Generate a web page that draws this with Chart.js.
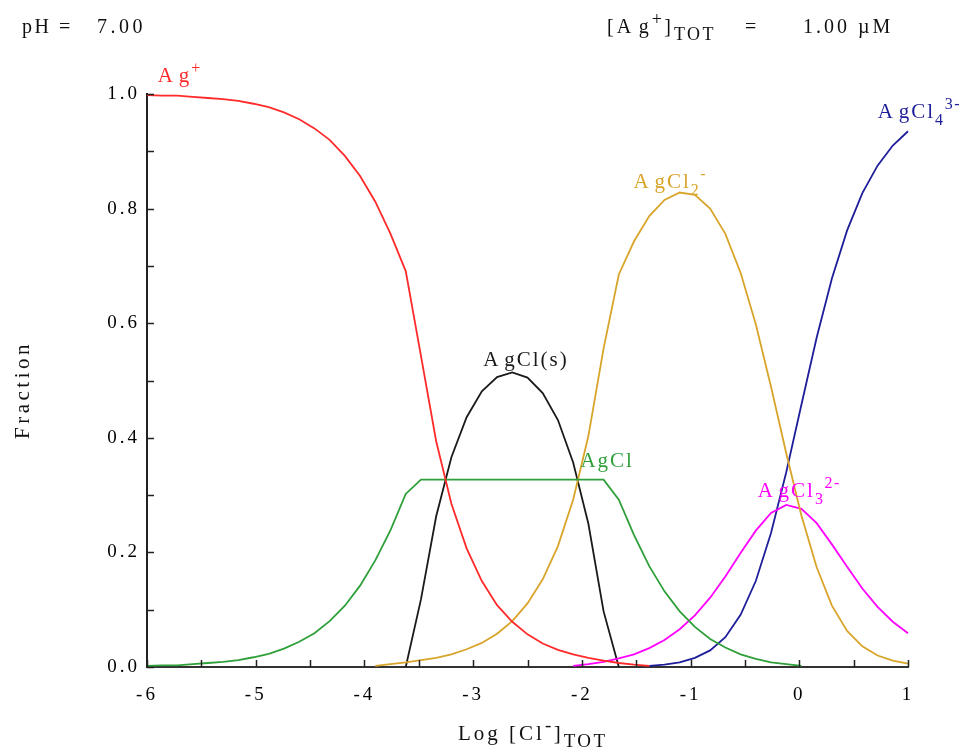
<!DOCTYPE html>
<html>
<head>
<meta charset="utf-8">
<script src="https://cdn.jsdelivr.net/npm/chart.js@4.4.1/dist/chart.umd.min.js"></script>
<style>
  html, body { margin: 0; padding: 0; background: #ffffff; }
  #c { display: block; }
</style>
</head>
<body>
<canvas id="c" width="976" height="751"></canvas>
<script>
// ---- data ----
const logCl = [-6, -5.86, -5.72, -5.58, -5.44, -5.3, -5.16, -5.02, -4.88, -4.74, -4.6, -4.46, -4.32, -4.18, -4.04, -3.9, -3.76, -3.62, -3.48, -3.34, -3.2, -3.06, -2.92, -2.78, -2.64, -2.5, -2.36, -2.22, -2.08, -1.94, -1.8, -1.66, -1.52, -1.38, -1.24, -1.1, -0.96, -0.82, -0.68, -0.54, -0.4, -0.26, -0.12, 0.02, 0.16, 0.3, 0.44, 0.58, 0.72, 0.86, 1.0];

const agPlus = [0.998, 0.997, 0.997, 0.995, 0.993, 0.991, 0.988, 0.983, 0.977, 0.968, 0.956, 0.940, 0.920, 0.892, 0.857, 0.812, 0.756, 0.691, 0.543, 0.394, 0.285, 0.207, 0.150, 0.108, 0.079, 0.057, 0.041, 0.030, 0.022, 0.016, 0.011, 0.007, 0.004, 0.002, null, null, null, null, null, null, null, null, null, null, null, null, null, null, null, null, null];

const agCl = [0.002, 0.003, 0.003, 0.005, 0.007, 0.009, 0.012, 0.017, 0.023, 0.032, 0.044, 0.059, 0.080, 0.107, 0.142, 0.186, 0.239, 0.302, 0.327, 0.327, 0.327, 0.327, 0.327, 0.327, 0.327, 0.327, 0.327, 0.327, 0.327, 0.327, 0.327, 0.292, 0.230, 0.176, 0.132, 0.097, 0.070, 0.049, 0.034, 0.022, 0.014, 0.008, 0.005, 0.002, null, null, null, null, null, null, null];

const agCl2 = [null, null, null, null, null, null, null, null, null, null, null, null, null, null, null, 0.002, 0.005, 0.008, 0.012, 0.016, 0.022, 0.031, 0.042, 0.058, 0.080, 0.111, 0.153, 0.211, 0.292, 0.403, 0.556, 0.685, 0.743, 0.787, 0.815, 0.828, 0.824, 0.800, 0.756, 0.688, 0.598, 0.489, 0.373, 0.264, 0.174, 0.107, 0.063, 0.036, 0.020, 0.011, 0.006];

const agCl3 = [null, null, null, null, null, null, null, null, null, null, null, null, null, null, null, null, null, null, null, null, null, null, null, null, null, null, null, null, 0.002, 0.005, 0.009, 0.015, 0.022, 0.033, 0.047, 0.066, 0.090, 0.121, 0.158, 0.199, 0.238, 0.269, 0.283, 0.276, 0.251, 0.214, 0.175, 0.137, 0.105, 0.079, 0.059];

const agCl4 = [null, null, null, null, null, null, null, null, null, null, null, null, null, null, null, null, null, null, null, null, null, null, null, null, null, null, null, null, null, null, null, null, null, 0.002, 0.004, 0.008, 0.016, 0.029, 0.052, 0.091, 0.150, 0.234, 0.340, 0.458, 0.575, 0.678, 0.762, 0.827, 0.875, 0.910, 0.935];

const agClSolid = [null, null, null, null, null, null, null, null, null, null, null, null, null, null, null, null, null, 0, 0.118, 0.263, 0.366, 0.436, 0.481, 0.506, 0.514, 0.505, 0.478, 0.431, 0.357, 0.250, 0.097, 0, null, null, null, null, null, null, null, null, null, null, null, null, null, null, null, null, null, null, null];

const xTickValues = [-6, -5, -4, -3, -2, -1, 0, 1];
const yTickValues = [0.0, 0.2, 0.4, 0.6, 0.8, 1.0];

// ---- styles ----
const FONT = '"Liberation Serif", "Times New Roman", serif';
const C = {
  red: '#ff2a2a', gold: '#d9a42a', green: '#2f9f3a', black: '#1a1a1a', magenta: '#ff00ff', navy: '#1e1e9a', text: '#111111'
};

function pts(arr) { return logCl.map((x, i) => ({ x: x, y: arr[i] })); }

const seriesDefs = [
  { name: 'Ag+', data: agPlus, color: C.red },
  { name: 'AgCl', data: agCl, color: C.green },
  { name: 'AgCl2-', data: agCl2, color: C.gold },
  { name: 'AgCl3 2-', data: agCl3, color: C.magenta },
  { name: 'AgCl4 3-', data: agCl4, color: C.navy },
  { name: 'AgCl(s)', data: agClSolid, color: C.black }
];

const curveLabels = [
  { parts: [{ t: 'A\u200ag' }, { t: '+', sup: 1 }], x: -5.90, y: 1.021, color: C.red },
  { parts: [{ t: 'A\u200agCl(s)' }], x: -2.906, y: 0.525, color: C.black },
  { parts: [{ t: 'A\u200agCl' }, { t: '2', sub: 1 }, { t: '-', sup: 1 }], x: -1.525, y: 0.836, color: C.gold },
  { parts: [{ t: 'AgCl' }], x: -2.013, y: 0.349, color: C.green },
  { parts: [{ t: 'A\u200agCl' }, { t: '3', sub: 1 }, { t: '2-', sup: 1 }], x: -0.383, y: 0.297, color: C.magenta },
  { parts: [{ t: 'A\u200agCl' }, { t: '4', sub: 1 }, { t: '3-', sup: 1 }], x: 0.722, y: 0.958, color: C.navy }
];

function rich(ctx, x, y, parts, size, color, spacing, smallFactor) {
  const sf = smallFactor || 0.78;
  ctx.save();
  ctx.fillStyle = color;
  ctx.textAlign = 'left';
  ctx.textBaseline = 'alphabetic';
  for (const p of parts) {
    const small = p.sub || p.sup;
    const s = small ? Math.round(size * sf) : size;
    ctx.font = s + 'px ' + FONT;
    ctx.letterSpacing = (small ? spacing * 0.8 : spacing) + 'px';
    const dy = p.sub ? size * 0.35 : (p.sup ? -size * 0.42 : 0);
    ctx.fillText(p.t, x, y + dy);
    x += ctx.measureText(p.t).width;
  }
  ctx.restore();
  return x;
}

const decor = {
  id: 'decor',
  beforeDraw(chart) {
    chart.ctx.letterSpacing = '3px';
  },
  afterDraw(chart) {
    const ctx = chart.ctx;
    const xs = chart.scales.x, ys = chart.scales.y;
    const a = chart.chartArea;
    // inward tick marks
    ctx.save();
    ctx.strokeStyle = '#222';
    ctx.lineWidth = 1.5;
    ctx.beginPath();
    for (const t of ys.ticks) {
      const py = Math.round(ys.getPixelForValue(t.value)) + 0.5;
      ctx.moveTo(a.left, py); ctx.lineTo(a.left + 7, py);
    }
    for (const t of xs.ticks) {
      const px = Math.round(xs.getPixelForValue(t.value)) + 0.5;
      ctx.moveTo(px, a.bottom); ctx.lineTo(px, a.bottom - 7);
    }
    ctx.stroke();
    ctx.restore();

    // curve labels
    for (const L of curveLabels) {
      rich(ctx, xs.getPixelForValue(L.x), ys.getPixelForValue(L.y), L.parts, 21, L.color, 2);
    }

    // header texts
    rich(ctx, 22, 33, [{ t: 'pH =' }], 20, C.text, 2.5);
    rich(ctx, 97, 33, [{ t: '7.00' }], 20, C.text, 3.5);
    rich(ctx, 607, 33, [{ t: '[A\u200ag' }, { t: '+', sup: 1 }, { t: ']' }, { t: 'TOT', sub: 1 }], 20, C.text, 3, 0.9);
    rich(ctx, 745, 33, [{ t: '=' }], 20, C.text, 2);
    rich(ctx, 803, 33, [{ t: '1.00 \u00b5M' }], 20, C.text, 3);

    // x axis title
    rich(ctx, 458, 740, [{ t: 'Log [Cl' }, { t: '-', sup: 1 }, { t: ']' }, { t: 'TOT', sub: 1 }], 21, C.text, 3, 0.9);

    // y axis title
    ctx.save();
    ctx.translate(29, 390);
    ctx.rotate(-Math.PI / 2);
    ctx.font = '21px ' + FONT;
    ctx.letterSpacing = '3.5px';
    ctx.fillStyle = C.text;
    ctx.textAlign = 'center';
    ctx.textBaseline = 'alphabetic';
    ctx.fillText('Fraction', 0, 0);
    ctx.restore();
  }
};

new Chart(document.getElementById('c'), {
  type: 'line',
  data: {
    datasets: seriesDefs.map(s => ({
      label: s.name,
      data: pts(s.data),
      borderColor: s.color,
      backgroundColor: s.color,
      borderWidth: 1.8,
      pointRadius: 0,
      tension: 0,
      spanGaps: false,
      fill: false,
      clip: 4
    }))
  },
  options: {
    responsive: false,
    animation: false,
    events: [],
    layout: { padding: { left: 0, right: 68, top: 94, bottom: 0 } },
    plugins: { legend: { display: false }, tooltip: { enabled: false } },
    scales: {
      x: {
        type: 'linear', min: -6, max: 1,
        afterFit(s) { s.height = 84; },
        afterBuildTicks(s) {
          const v = [];
          for (let i = 0; i <= 14; i++) v.push({ value: -6 + i * 0.5 });
          s.ticks = v;
        },
        grid: { display: true, drawOnChartArea: false, drawTicks: false },
        border: { display: true, color: '#333', width: 2 },
        ticks: {
          autoSkip: false, maxRotation: 0, padding: 17, color: '#000',
          font: { family: FONT, size: 19 },
          callback: v => xTickValues.includes(v) ? String(v) : ''
        }
      },
      y: {
        min: 0, max: 1,
        afterFit(s) { s.width = 147; },
        afterBuildTicks(s) {
          const v = [];
          for (let i = 0; i <= 10; i++) v.push({ value: i / 10 });
          s.ticks = v;
        },
        grid: { display: true, drawOnChartArea: false, drawTicks: false },
        border: { display: true, color: '#222', width: 2 },
        ticks: {
          autoSkip: false, padding: 7, color: '#000',
          font: { family: FONT, size: 19 },
          callback: v => {
            const m = yTickValues.find(t => Math.abs(t - v) < 1e-6);
            return m === undefined ? '' : m.toFixed(1);
          }
        }
      }
    }
  },
  plugins: [decor]
});
</script>
</body>
</html>
